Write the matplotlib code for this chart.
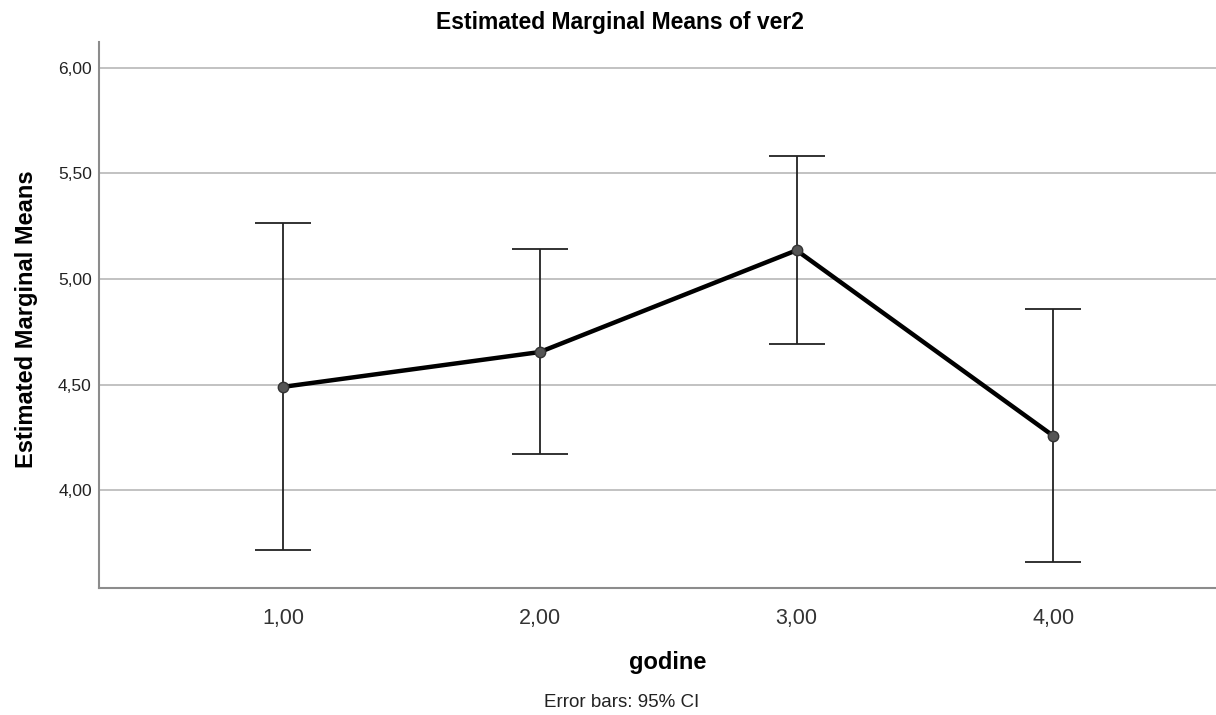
import matplotlib
matplotlib.use("Agg")
import matplotlib.pyplot as plt
import numpy as np

# data
godine = [1, 2, 3, 4]
tick_labels = ["1,00", "2,00", "3,00", "4,00"]
means = [4.489, 4.654, 5.136, 4.257]
ci_low = [3.714, 4.169, 4.694, 3.660]
ci_high = [5.267, 5.144, 5.582, 4.857]
yticks = [4.0, 4.5, 5.0, 5.5, 6.0]
ytick_labels = ["4,00", "4,50", "5,00", "5,50", "6,00"]

plt.rcParams['font.family'] = ['Liberation Sans', 'DejaVu Sans']

fig = plt.figure(figsize=(12.16, 7.15), dpi=100)
ax = fig.add_axes([0.0812, 0.177, 0.9188, 0.764])

m = np.array(means)
yerr = [m - np.array(ci_low), np.array(ci_high) - m]

ax.errorbar(godine, means, yerr=yerr, fmt='none', ecolor='#222222',
            elinewidth=1.3, capsize=20, capthick=1.3, zorder=3)
ax.plot(godine, means, color='black', lw=3.2, zorder=4)
ax.plot(godine, means, 'o', ms=7.5, mfc='#555555', mec='#333333', mew=1, zorder=5)

ax.set_xlim(0.282, 4.634)
ax.set_ylim(3.534, 6.122)
ax.set_xticks(godine)
ax.set_xticklabels(tick_labels, fontsize=15.5, color='#333333')
ax.set_yticks(yticks)
ax.set_yticklabels(ytick_labels, fontsize=12.5, color='#222222')
ax.tick_params(axis='both', length=0)
ax.tick_params(axis='x', pad=14)
ax.tick_params(axis='y', pad=5)

ax.yaxis.grid(True, color='#b8b8b8', lw=1.2)
ax.set_axisbelow(True)
for s in ['top', 'right']:
    ax.spines[s].set_visible(False)
for s in ['left', 'bottom']:
    ax.spines[s].set_color('#8c8c8c')
    ax.spines[s].set_linewidth(1.5)

# SPSS-style placement of titles
fig.text(0.51, 0.969, "Estimated Marginal Means of ver2", ha='center', va='center',
         fontsize=16.5, fontweight='bold')
fig.text(0.0222, 0.554, "Estimated Marginal Means", ha='center', va='center',
         rotation=90, fontsize=17, fontweight='bold')
fig.text(0.549, 0.074, "godine", ha='center', va='center', fontsize=17, fontweight='bold')
fig.text(0.5115, 0.017, "Error bars: 95% CI", ha='center', va='center',
         fontsize=13.5, color='#222222')

fig.savefig("out.png", dpi=100, facecolor='white')
